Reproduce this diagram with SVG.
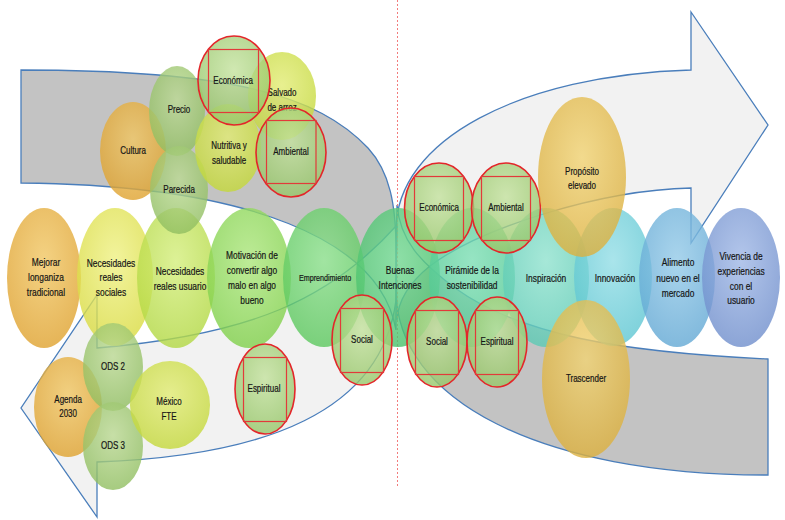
<svg xmlns="http://www.w3.org/2000/svg" width="785" height="520" viewBox="0 0 785 520">
<style>
.gfill{fill:#c3c3c3}
.wfill{fill:#f2f2f2}
.edge{fill:none;stroke:#4a7ebb;stroke-width:1.3}
.dash{stroke:#f27c7c;stroke-width:1;stroke-dasharray:2 2}
.n{fill-opacity:.8}
.rc{fill-opacity:.8;stroke:#e3262a;stroke-width:1.6}
.rs{fill:none;stroke:#e23a3a;stroke-width:1.2}
text{font-family:"Liberation Sans",Arial,sans-serif;font-size:10.5px;fill:#151515;stroke:#151515;stroke-width:.2;text-anchor:middle;transform-box:fill-box;transform-origin:center;transform:scaleX(.8)}
.s{font-size:10px}
.xs{font-size:9px}
</style>
<defs>
<radialGradient id="gOr" cx=".5" cy=".38" r=".62"><stop offset="0" stop-color="#f1c764"/><stop offset="1" stop-color="#dfa22e"/></radialGradient>
<radialGradient id="gGo" cx=".5" cy=".38" r=".62"><stop offset="0" stop-color="#f2d474"/><stop offset="1" stop-color="#dcb03e"/></radialGradient>
<radialGradient id="gYe" cx=".5" cy=".38" r=".62"><stop offset="0" stop-color="#eff184"/><stop offset="1" stop-color="#d9db40"/></radialGradient>
<radialGradient id="gYg" cx=".5" cy=".38" r=".62"><stop offset="0" stop-color="#d4ee7c"/><stop offset="1" stop-color="#b2d842"/></radialGradient>
<radialGradient id="gG1" cx=".5" cy=".38" r=".62"><stop offset="0" stop-color="#ace67c"/><stop offset="1" stop-color="#80d04a"/></radialGradient>
<radialGradient id="gG2" cx=".5" cy=".38" r=".62"><stop offset="0" stop-color="#8ade8a"/><stop offset="1" stop-color="#5cc85e"/></radialGradient>
<radialGradient id="gG3" cx=".5" cy=".38" r=".62"><stop offset="0" stop-color="#74da94"/><stop offset="1" stop-color="#48c06a"/></radialGradient>
<radialGradient id="gMi" cx=".5" cy=".38" r=".62"><stop offset="0" stop-color="#7cdeb4"/><stop offset="1" stop-color="#50c892"/></radialGradient>
<radialGradient id="gTe" cx=".5" cy=".38" r=".62"><stop offset="0" stop-color="#90e2ce"/><stop offset="1" stop-color="#5ccab4"/></radialGradient>
<radialGradient id="gCy" cx=".5" cy=".38" r=".62"><stop offset="0" stop-color="#94dee6"/><stop offset="1" stop-color="#5ec6d2"/></radialGradient>
<radialGradient id="gLb" cx=".5" cy=".38" r=".62"><stop offset="0" stop-color="#94cae8"/><stop offset="1" stop-color="#62a8d4"/></radialGradient>
<radialGradient id="gBl" cx=".5" cy=".38" r=".62"><stop offset="0" stop-color="#a0b8e6"/><stop offset="1" stop-color="#6f8ecc"/></radialGradient>
<radialGradient id="gOl" cx=".5" cy=".38" r=".62"><stop offset="0" stop-color="#bcda94"/><stop offset="1" stop-color="#90be60"/></radialGradient>
<radialGradient id="gRg" cx=".5" cy=".38" r=".62"><stop offset="0" stop-color="#c4e29e"/><stop offset="1" stop-color="#96c668"/></radialGradient>
<radialGradient id="gYG" cx=".5" cy=".38" r=".62"><stop offset="0" stop-color="#e2ec74"/><stop offset="1" stop-color="#c4d83a"/></radialGradient>
<path id="grey1" d="M21,70 C230,70 318,95 368,148 C390,172 396,205 396,250 L396,330 C380,240 250,185 21,183 Z"/>
<path id="grey2" d="M768,359 L768,475 C540,475 396,400 396,290 L397,205 C400,240 420,262 455,288 C520,335 620,352 768,359 Z"/>
<path id="white1" d="M691,70 L691,12 L768,125 L691,243 L691,188 C600,190 480,228 430,266 C410,282 398,300 397,320 L396,230 C396,140 520,75 691,70 Z"/>
<path id="white2" d="M97,348 L97,295 L21,408 L97,517 L97,462 C265,456 382,412 396,300 L397,225 C330,300 250,335 97,348 Z"/>
</defs>

<g id="connectors">
<use href="#grey1" class="gfill"/>
<use href="#grey2" class="gfill"/>
<use href="#white1" class="wfill"/>
<use href="#white2" class="wfill"/>
<use href="#grey1" class="edge"/>
<use href="#grey2" class="edge"/>
<use href="#white1" class="edge"/>
<use href="#white2" class="edge"/>
<line class="dash" x1="397.5" y1="0" x2="397.5" y2="486"/>
</g>

<g id="n-mejorar"><ellipse class="n" fill="url(#gOr)" cx="44" cy="278" rx="37" ry="70"/>
<text><tspan x="46" y="265.8">Mejorar</tspan><tspan x="46" y="280.8">longaniza</tspan><tspan x="46" y="295.8">tradicional</tspan></text></g>
<g id="n-nec-sociales"><ellipse class="n" fill="url(#gYe)" cx="115" cy="277" rx="38" ry="69"/>
<text><tspan x="111" y="266.8">Necesidades</tspan><tspan x="111" y="281.3">reales</tspan><tspan x="111" y="295.8">sociales</tspan></text></g>
<g id="n-nec-usuario"><ellipse class="n" fill="url(#gYg)" cx="176" cy="278" rx="39" ry="70"/>
<text><tspan x="180" y="274.8">Necesidades</tspan><tspan x="180" y="289.8">reales usuario</tspan></text></g>
<g id="n-motivacion"><ellipse class="n" fill="url(#gG1)" cx="249" cy="278" rx="42" ry="70"/>
<text><tspan x="252" y="258.8">Motivación de</tspan><tspan x="252" y="273.8">convertir algo</tspan><tspan x="252" y="288.8">malo en algo</tspan><tspan x="252" y="303.8">bueno</tspan></text></g>
<g id="n-emprendimiento"><ellipse class="n" fill="url(#gG2)" cx="324" cy="277.5" rx="41" ry="69.5"/>
<text class="xs" x="325" y="281">Emprendimiento</text></g>
<g id="n-buenas"><ellipse class="n" fill="url(#gG3)" cx="398" cy="277.5" rx="42" ry="69.5"/>
<text><tspan x="400" y="274.3">Buenas</tspan><tspan x="400" y="289.3">Intenciones</tspan></text></g>
<g id="n-piramide"><ellipse class="n" fill="url(#gMi)" cx="472" cy="277.5" rx="43" ry="69.5"/>
<text><tspan x="472" y="274.3">Pirámide de la</tspan><tspan x="472" y="289.3">sostenibilidad</tspan></text></g>
<g id="n-inspiracion"><ellipse class="n" fill="url(#gTe)" cx="546" cy="277.5" rx="43" ry="69.5"/>
<text x="546" y="281.8">Inspiración</text></g>
<g id="n-innovacion"><ellipse class="n" fill="url(#gCy)" cx="613" cy="277" rx="39" ry="69"/>
<text x="615" y="281.8">Innovación</text></g>
<g id="n-alimento"><ellipse class="n" fill="url(#gLb)" cx="677" cy="277.5" rx="38" ry="69.5"/>
<text><tspan x="678" y="266.3">Alimento</tspan><tspan x="678" y="281.8">nuevo en el</tspan><tspan x="678" y="296.8">mercado</tspan></text></g>
<g id="n-vivencia"><ellipse class="n" fill="url(#gBl)" cx="741" cy="277.5" rx="39" ry="69.5"/>
<text><tspan x="741" y="259.8">Vivencia de</tspan><tspan x="741" y="274.8">experiencias</tspan><tspan x="741" y="289.8">con el</tspan><tspan x="741" y="303.8">usuario</tspan></text></g>

<g id="n-cultura"><ellipse class="n" fill="url(#gOr)" cx="133" cy="151" rx="33" ry="49"/>
<text class="s" x="133" y="154.5">Cultura</text></g>
<g id="n-precio"><ellipse class="n" fill="url(#gOl)" cx="177" cy="111" rx="28" ry="45"/>
<text class="s" x="179" y="113.5">Precio</text></g>
<g id="n-parecida"><ellipse class="n" fill="url(#gOl)" cx="179" cy="190" rx="29" ry="44"/>
<text class="s" x="179" y="193.5">Parecida</text></g>
<g id="n-nutritiva"><ellipse class="n" fill="url(#gYG)" cx="228" cy="148" rx="33" ry="44"/>
<text class="s"><tspan x="229" y="149.5">Nutritiva y</tspan><tspan x="229" y="164.5">saludable</tspan></text></g>
<g id="n-salvado"><ellipse class="n" fill="url(#gYG)" cx="282" cy="96" rx="34" ry="44"/>
<text class="s"><tspan x="282" y="96.5">Salvado</tspan><tspan x="282" y="111.5">de arroz</tspan></text></g>
<g id="n-economica-1"><ellipse class="rc" fill="url(#gRg)" cx="234" cy="80.5" rx="36" ry="44.5"/>
<rect class="rs" x="208.5" y="49.5" width="50" height="63"/>
<text class="s" x="233" y="84.5">Económica</text></g>
<g id="n-ambiental-1"><ellipse class="rc" fill="url(#gRg)" cx="291" cy="152.5" rx="35" ry="44.5"/>
<rect class="rs" x="266.5" y="120.5" width="49.5" height="63"/>
<text class="s" x="291" y="155.5">Ambiental</text></g>

<g id="n-agenda"><ellipse class="n" fill="url(#gOr)" cx="68" cy="407" rx="34" ry="50"/>
<text class="s"><tspan x="68" y="403.5">Agenda</tspan><tspan x="68" y="417.5">2030</tspan></text></g>
<g id="n-ods2"><ellipse class="n" fill="url(#gOl)" cx="113" cy="367" rx="30" ry="44"/>
<text class="s" x="113" y="370.5">ODS 2</text></g>
<g id="n-ods3"><ellipse class="n" fill="url(#gOl)" cx="113" cy="446" rx="30" ry="44"/>
<text class="s" x="113" y="449.5">ODS 3</text></g>
<g id="n-mexico"><ellipse class="n" fill="url(#gYG)" cx="170" cy="405" rx="40" ry="44"/>
<text class="s"><tspan x="169" y="405.5">México</tspan><tspan x="169" y="420.5">FTE</tspan></text></g>
<g id="n-espiritual-1"><ellipse class="rc" fill="url(#gRg)" cx="265" cy="389" rx="30" ry="45"/>
<rect class="rs" x="243.5" y="357.5" width="43" height="64"/>
<text class="s" x="264" y="392.5">Espiritual</text></g>
<g id="n-social-1"><ellipse class="rc" fill="url(#gRg)" cx="362" cy="340" rx="30" ry="45"/>
<rect class="rs" x="340.5" y="308.5" width="43" height="64"/>
<text class="s" x="362" y="343.5">Social</text></g>

<g id="n-economica-2"><ellipse class="rc" fill="url(#gRg)" cx="439" cy="208" rx="34.5" ry="45"/>
<rect class="rs" x="414.5" y="176.5" width="49" height="64"/>
<text class="s" x="439" y="211.5">Económica</text></g>
<g id="n-ambiental-2"><ellipse class="rc" fill="url(#gRg)" cx="506" cy="208" rx="34.5" ry="45"/>
<rect class="rs" x="481.5" y="176.5" width="49" height="64"/>
<text class="s" x="506" y="211.5">Ambiental</text></g>
<g id="n-social-2"><ellipse class="rc" fill="url(#gRg)" cx="437" cy="342" rx="30" ry="45"/>
<rect class="rs" x="415.5" y="310.5" width="43" height="64"/>
<text class="s" x="437" y="345.5">Social</text></g>
<g id="n-espiritual-2"><ellipse class="rc" fill="url(#gRg)" cx="497" cy="342" rx="30" ry="45"/>
<rect class="rs" x="475.5" y="310.5" width="43" height="64"/>
<text class="s" x="497" y="345.5">Espiritual</text></g>
<g id="n-proposito"><ellipse class="n" fill="url(#gGo)" cx="582" cy="177" rx="44" ry="80"/>
<text class="s"><tspan x="582" y="175.5">Propósito</tspan><tspan x="582" y="189.5">elevado</tspan></text></g>
<g id="n-trascender"><ellipse class="n" fill="url(#gGo)" cx="586" cy="379" rx="44" ry="79"/>
<text class="s" x="586" y="382.5">Trascender</text></g>
</svg>
